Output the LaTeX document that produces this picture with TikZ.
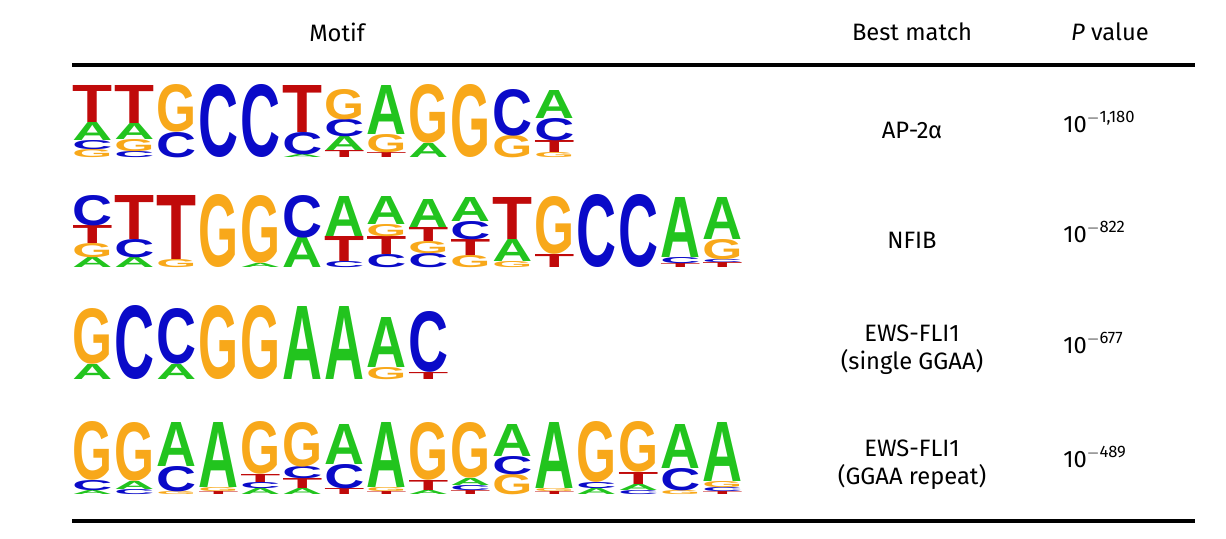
\documentclass[tikz,border=0pt]{standalone}
\usepackage{fontspec}
\setmainfont{Fira Sans}
\newfontfamily\logofont{Liberation Sans}
\usepackage{graphicx}
\definecolor{colA}{HTML}{22C41E}
\definecolor{colC}{HTML}{0A0AC8}
\definecolor{colG}{HTML}{F8A81A}
\definecolor{colT}{HTML}{C00A0A}
\tikzset{lbl/.style={font=\fontsize{13.5}{16}\selectfont,align=center},
  pv/.style={lbl,anchor=west,inner sep=0},
  rule/.style={line width=2.2pt}}
% one logo row: base line (px) and columns, letters bottom to top
\newcommand{\logorow}[2]{%
  \foreach \lst [count=\i] in {#2}{%
    \foreach \c/\h [evaluate=\h as \ytop using \yprev+\h,
        remember=\ytop as \yprev (initially 0)] in \lst {%
      \pgfmathsetmacro\hh{\h*0.02}%
      \node[inner sep=0,anchor=south west] at ({72+(\i-1)*42},{#1-\yprev})
        {\resizebox{0.8cm}{\hh cm}{\textcolor{col\c}{\logofont\bfseries\c}}};
    }
  }}

\begin{document}
\begin{tikzpicture}[x=0.02cm,y=-0.02cm]
  \useasboundingbox (0,0) rectangle (1226,538);
  % header
  \node[lbl] (motif) at (337,32) {Motif};
  \node[lbl] (best) at (912,32) {Best match};
  \node[lbl] (pval) at (1110,32) {\textit{P} value};
  \draw[rule] (72,65) -- (1195,65);
  \draw[rule] (72,521) -- (1195,521);
  % logos
  \logorow{158}{{G/8,C/9,A/18,T/37},{C/6,G/12,A/16,T/38},{C/25,G/47},{C/72},{C/72},
    {A/3,C/22,T/47},{T/7,A/14,C/17,G/30},{T/5,G/18,A/49},{A/14,G/58},{G/72},
    {G/22,C/46},{G/5,T/12,C/22,A/28}}
  \logorow{268}{{A/10,G/14,T/18,C/30},{A/10,C/18,T/44},{G/8,T/64},{G/72},{A/4,G/67},
    {A/30,C/42},{C/6,T/25,A/40},{C/13,T/18,G/12,A/28},{C/14,G/12,T/14,A/28},
    {G/12,T/16,C/18,A/24},{G/6,A/22,T/42},{T/13,G/57},{C/72},{C/72},
    {T/4,C/6,A/60},{T/5,C/3,G/20,A/42}}
  \logorow{380}{{A/15,G/55},{C/73},{A/15,C/55},{G/73},{G/73},{A/73},{A/73},
    {G/12,A/50},{T/7,C/60}}
  \logorow{495}{{A/4,C/10,G/58},{C/5,A/8,G/58},{G/3,C/25,A/44},{T/3,G/4,A/65},
    {A/6,C/6,T/8,G/52},{A/6,T/10,C/12,G/44},{T/6,C/24,A/40},{T/3,G/4,A/65},
    {A/4,T/10,G/57},{T/4,C/5,A/7,G/55},{G/20,C/18,A/32},{T/3,G/3,A/66},
    {A/6,C/6,G/60},{C/4,A/6,T/12,G/50},{G/4,C/22,A/44},{T/3,C/4,G/6,A/59}}
  % matches
  \node[lbl] (m1) at (912,130) {AP-2α};
  \node[lbl] (m2) at (912,240) {NFIB};
  \node[lbl] (m3) at (912,350) {EWS-FLI1\\(single GGAA)};
  \node[lbl] (m4) at (912,465) {EWS-FLI1\\(GGAA repeat)};
  % P values
  \node[pv] (p1) at (1063,122) {10\textsuperscript{$-$1,180}};
  \node[pv] (p2) at (1063,232) {10\textsuperscript{$-$822}};
  \node[pv] (p3) at (1063,343) {10\textsuperscript{$-$677}};
  \node[pv] (p4) at (1063,457) {10\textsuperscript{$-$489}};
\end{tikzpicture}
\end{document}
